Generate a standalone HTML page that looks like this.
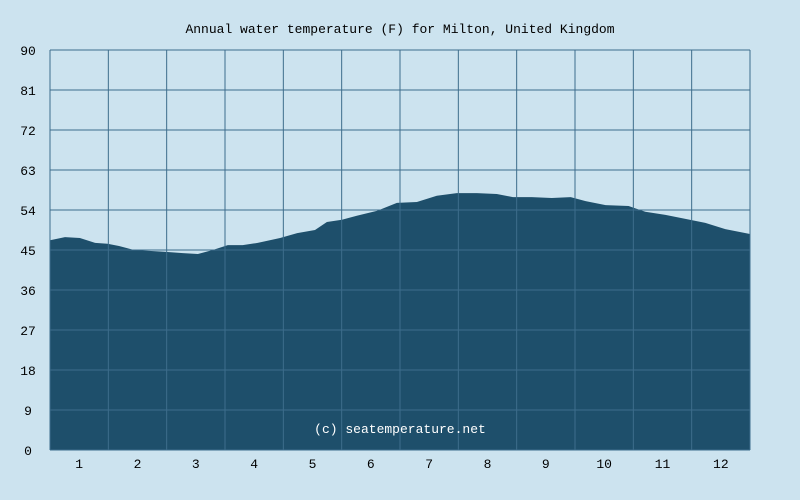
<!DOCTYPE html>
<html><head><meta charset="utf-8"><style>
html,body{margin:0;padding:0;background:#cce3ef;}
svg{display:block;font-family:"Liberation Mono",monospace;}
</style></head><body>
<svg id="chart" width="800" height="500">
<rect width="800" height="500" fill="#cce3ef"/>
<text x="400" y="33" text-anchor="middle" font-size="13" fill="#000">Annual water temperature (F) for Milton, United Kingdom</text>
<g id="plot"></g>
</svg>
<script>
const days=[0,8,15,23,30,36,44,51,59,68,76,83,91,99,107,118,126,135,화=0];
</script>
<script>
const dayPos=[0,7.8,15.6,23.5,30,36,43.8,51.6,59.5,69.3,77.1,84.9,92.7,100.5,108.3,120,128.9,138.2,144.4,152.2,160,170.4,180.9,191.3,201.7,212.1,222.6,233,241.3,251.2,261.6,271.5,279.3,289.7,301.7,310.4,320.9,331.3,341.7,352.1,365];
const temps=[47.2,47.9,47.7,46.6,46.4,45.9,45,44.8,44.6,44.3,44.1,45,46.1,46.1,46.6,47.7,48.8,49.5,51.3,51.8,52.7,53.8,55.6,55.8,57.2,57.8,57.8,57.6,56.9,56.9,56.7,56.9,56,55.1,54.9,53.6,52.9,52,51.1,49.7,48.6];
const yTicks=[0,9,18,27,36,45,54,63,72,81,90];
const months=["1","2","3","4","5","6","7","8","9","10","11","12"];
const L=50,R=750,T=50,B=450;
const xS=d=>L+d/365*(R-L);
const yS=v=>B-v/90*(B-T);
const ns="http://www.w3.org/2000/svg";
const g=document.getElementById('plot');
function mk(t,a){const e=document.createElementNS(ns,t);for(const k in a)e.setAttribute(k,a[k]);g.appendChild(e);return e;}
let d="M"+L+","+B;
for(let i=0;i<dayPos.length;i++)d+=" L"+xS(dayPos[i]).toFixed(1)+","+yS(temps[i]).toFixed(1);
d+=" L"+R+","+B+" Z";
const area=mk('path',{d:d,fill:'#1e4f6b'});


yTicks.forEach(v=>{
 const ln=mk('line',{x1:L,x2:R,y1:yS(v),y2:yS(v),stroke:'#3d6d8c','stroke-width':1});
 
 
 const t=mk('text',{x:28,y:yS(v)+5,'text-anchor':'middle','font-size':13,fill:'#000'});
 t.textContent=v;
 
 
});
for(let i=0;i<=12;i++){
 const x=L+i*(R-L)/12;
 const ln=mk('line',{x1:x,x2:x,y1:T,y2:B,stroke:'#3d6d8c','stroke-width':1});
 
 
}
months.forEach((m,i)=>{
 const x=L+(i+0.5)*(R-L)/12;
 const t=mk('text',{x:x,y:468,'text-anchor':'middle','font-size':13,fill:'#000'});
 t.textContent=m;
 
 
});
const c=mk('text',{x:400,y:433,'text-anchor':'middle','font-size':13,fill:'#fff'});
c.textContent="(c) seatemperature.net";


</script>
</body></html>
